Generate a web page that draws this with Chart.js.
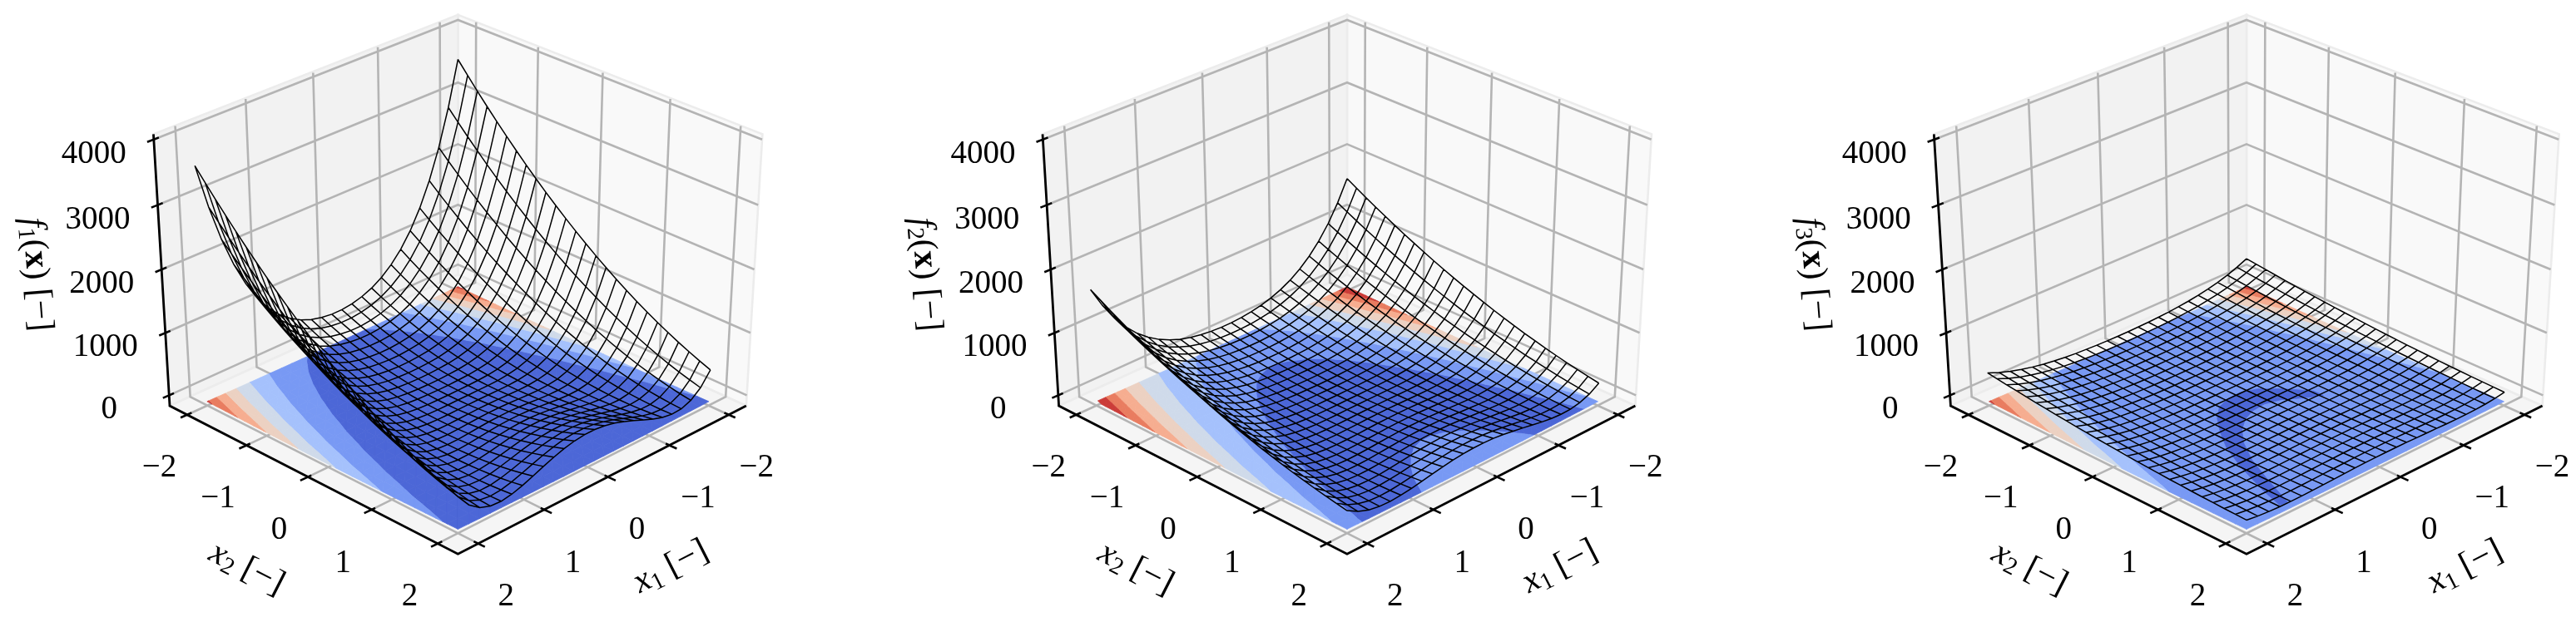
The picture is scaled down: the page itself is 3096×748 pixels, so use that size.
<!DOCTYPE html>
<html>
<head>
<meta charset="utf-8">
<style>
  html, body { margin: 0; background: #fff; }
  canvas { position: absolute; top: 0; }
</style>
<script src="https://cdn.jsdelivr.net/npm/chart.js@4"></script>
</head>
<body>
<canvas id="c1" width="1032" height="748" style="left:0"></canvas>
<canvas id="c2" width="1032" height="748" style="left:1032px"></canvas>
<canvas id="c3" width="1032" height="748" style="left:2064px"></canvas>
<script>
const x1Ticks = [-2, -1, 0, 1, 2];
const x2Ticks = [-2, -1, 0, 1, 2];
const zTicks = [0, 1000, 2000, 3000, 4000];
const gridX = [-2, -1.84, -1.68, -1.52, -1.36, -1.2, -1.04, -0.88, -0.72, -0.56, -0.4, -0.24, -0.08, 0.08, 0.24, 0.4, 0.56, 0.72, 0.88, 1.04, 1.2, 1.36, 1.52, 1.68, 1.84, 2];

const f1Grid = [
[3609,2908,2332,1864,1488,1188,954,774,637,537,469,426,403,403,425,467,535,634,770,950,1183,1482,1858,2325,2901,3601],
[3420,2739,2180,1728,1368,1081,858,687,559,466,402,362,342,342,361,400,464,556,683,854,1076,1362,1722,2173,2732,3412],
[3235,2574,2034,1598,1252,978,767,606,486,400,341,304,285,285,303,339,398,483,602,763,973,1246,1592,2027,2567,3227],
[3056,2415,1892,1473,1142,881,681,530,418,338,284,251,234,234,250,282,336,415,526,677,876,1136,1467,1885,2408,3048],
[2882,2260,1756,1353,1036,789,600,459,356,282,233,203,188,188,202,231,280,353,455,596,784,1030,1347,1749,2253,2874],
[2713,2111,1625,1238,936,702,525,394,298,231,187,160,146,146,159,185,229,295,390,521,697,930,1232,1618,2104,2705],
[2549,1967,1499,1128,841,620,454,333,246,185,146,123,110,110,122,144,183,243,329,450,615,835,1122,1492,1960,2541],
[2390,1828,1377,1024,751,543,389,278,198,145,110,90,79,79,89,108,143,195,274,385,538,745,1018,1370,1821,2382],
[2237,1694,1262,924,666,472,329,227,156,109,79,63,54,54,62,77,107,153,223,325,467,660,918,1255,1687,2229],
[2088,1565,1151,830,587,405,274,182,119,78,54,40,33,33,39,52,76,116,178,270,400,581,824,1144,1558,2080],
[1945,1441,1045,740,512,344,224,142,87,53,33,23,17,17,22,31,51,84,138,220,339,506,734,1038,1434,1937],
[1807,1323,945,656,443,287,179,107,60,33,18,11,7,7,10,16,31,57,103,175,282,437,650,938,1316,1799],
[1674,1209,849,577,378,236,139,77,39,18,8,4,2,2,3,6,16,36,73,135,231,372,571,842,1202,1666],
[1546,1101,759,503,319,190,104,52,22,7,3,2,2,2,1,1,5,19,48,100,185,313,497,752,1094,1538],
[1423,998,674,434,265,149,75,33,11,3,3,5,6,6,4,1,1,8,29,71,144,259,428,667,991,1415],
[1305,900,594,371,216,113,51,18,4,3,8,14,17,17,13,6,1,1,14,47,108,210,365,587,893,1297],
[1192,807,519,312,172,82,31,9,3,8,18,27,32,32,26,16,6,0,5,27,77,166,306,512,800,1184],
[1085,719,449,259,134,57,17,4,7,18,33,46,52,52,45,31,16,4,0,13,52,128,253,442,712,1077],
[982,636,384,210,100,36,8,5,16,34,54,70,77,77,69,52,32,13,1,4,31,94,204,377,629,974],
[885,558,325,167,72,21,4,11,30,55,79,98,108,108,97,77,53,27,7,0,16,66,161,318,551,877],
[793,486,270,129,48,11,5,22,50,80,110,132,144,144,131,108,78,47,18,1,6,42,123,263,479,785],
[706,418,221,96,30,6,12,38,74,111,146,172,184,184,171,144,109,71,34,8,1,24,90,214,411,698],
[624,356,177,68,17,6,23,60,103,147,187,216,230,230,215,185,145,100,56,19,1,11,62,170,349,616],
[547,299,137,46,9,11,40,86,138,189,233,265,281,281,264,231,187,135,82,36,6,3,40,130,292,539],
[476,247,103,28,6,21,61,118,178,235,284,320,337,337,319,282,233,175,114,57,16,0,22,96,240,468],
[409,200,75,16,8,36,88,154,223,286,341,379,399,399,378,339,284,220,150,84,31,2,10,68,193,401]
];
const f2Grid = [
[1692,1364,1094,875,699,559,448,364,299,253,221,200,189,189,199,219,251,296,360,444,554,693,869,1087,1357,1684],
[1604,1285,1023,811,643,508,403,324,263,219,189,170,161,161,169,187,217,260,320,399,503,637,805,1016,1278,1596],
[1517,1208,955,750,589,460,361,285,229,188,161,143,134,134,142,159,186,226,281,357,455,583,744,948,1201,1509],
[1434,1134,889,692,537,415,321,250,197,159,134,119,110,110,118,132,157,194,246,317,410,531,686,882,1127,1426],
[1353,1061,825,636,488,372,283,217,168,133,110,96,89,89,95,108,131,165,213,279,367,482,630,818,1054,1345],
[1273,992,763,582,441,331,248,186,141,110,89,76,69,69,75,87,108,138,182,244,326,435,576,756,985,1265],
[1196,924,705,531,397,293,214,158,117,88,69,59,52,52,58,67,86,114,154,210,288,391,525,698,917,1188],
[1123,859,647,482,355,257,184,132,95,69,52,43,37,37,42,50,67,92,128,180,252,349,476,640,852,1115],
[1051,796,594,435,315,224,156,109,75,52,38,31,26,26,30,36,50,72,105,152,219,309,429,587,789,1043],
[981,736,542,391,278,192,130,87,57,38,26,20,16,16,19,24,36,54,83,126,187,272,385,535,729,973],
[914,678,492,349,243,164,107,69,42,26,17,12,8,8,11,15,24,39,65,103,159,237,343,485,671,906],
[850,623,446,310,211,137,86,53,30,17,9,7,4,4,6,7,15,27,49,82,132,205,304,439,616,842],
[788,570,401,273,180,113,68,39,20,9,5,3,2,2,2,3,7,17,35,64,108,174,267,394,563,780],
[728,519,359,239,153,92,51,26,12,5,3,2,2,2,1,1,3,9,22,47,87,147,233,352,512,720],
[670,471,319,206,128,72,38,18,7,3,3,4,4,4,3,1,1,4,14,34,67,122,200,312,464,662],
[615,425,282,177,104,55,26,11,4,3,5,8,8,8,7,3,1,1,7,22,50,98,171,275,418,607],
[563,382,246,149,84,41,17,7,3,5,9,14,16,16,13,7,3,0,3,13,36,78,143,239,375,555],
[512,341,214,125,66,29,11,4,5,9,17,23,25,25,22,15,7,2,0,7,24,60,119,207,334,504],
[464,302,184,101,50,20,6,5,10,17,26,34,37,37,33,24,15,7,1,2,15,44,95,177,295,456],
[419,265,156,82,37,12,4,8,16,27,38,47,51,51,46,36,25,13,4,0,7,31,76,149,258,411],
[376,231,130,64,26,8,5,12,25,38,52,63,68,68,62,50,36,22,8,1,3,20,58,123,224,368],
[335,200,107,48,17,6,8,20,37,53,69,81,87,87,80,67,51,34,16,4,1,11,42,100,193,327],
[297,171,86,35,12,6,13,30,50,70,89,102,109,109,101,87,68,47,26,9,1,6,29,79,164,289],
[261,145,68,25,8,8,21,42,67,90,110,125,132,132,124,108,88,64,38,17,3,2,19,61,138,253],
[228,120,52,16,6,12,31,57,85,111,134,151,158,158,150,132,109,82,53,27,7,0,10,45,113,220],
[196,98,39,11,7,20,43,74,106,135,161,179,187,187,178,159,133,103,70,39,15,1,5,32,91,188]
];
const f3Grid = [
[369,298,240,192,154,123,99,81,66,56,49,44,41,41,43,47,54,63,77,95,118,148,186,233,291,361],
[350,281,224,178,142,113,89,72,59,48,42,38,35,35,37,40,46,56,68,85,108,136,172,217,274,342],
[332,265,210,165,131,102,80,64,51,42,36,32,29,29,31,34,40,48,60,76,97,125,159,203,258,324],
[314,249,196,153,120,93,72,57,45,36,30,27,24,24,26,28,34,42,53,68,88,114,147,189,242,306],
[296,233,182,141,109,83,64,50,38,30,25,22,20,20,21,23,28,35,46,60,78,103,135,175,226,288],
[279,218,169,129,99,75,56,43,33,25,21,18,16,16,17,19,23,30,39,52,70,93,123,162,211,271],
[263,204,156,118,90,67,49,37,27,20,16,14,12,12,13,14,18,24,33,45,62,84,112,149,197,255],
[247,190,144,108,81,59,43,31,23,16,13,11,9,9,10,11,14,20,27,39,54,75,102,137,183,239],
[232,177,133,98,72,52,37,26,18,13,10,8,6,6,7,8,11,15,22,33,47,66,92,126,170,224],
[217,164,121,88,64,45,31,22,15,10,7,6,4,4,5,5,8,12,18,27,40,58,82,114,157,209],
[203,151,111,79,57,39,26,18,11,7,5,4,3,3,3,3,5,8,14,22,34,51,73,104,144,195],
[189,140,101,71,50,33,22,14,9,5,4,3,2,2,2,2,3,6,10,18,28,44,65,94,133,181],
[176,128,91,63,43,28,18,11,7,4,3,2,1,1,1,1,2,4,7,14,23,37,57,84,121,168],
[163,117,82,56,37,24,14,9,5,3,2,2,1,1,1,0,1,2,5,10,19,31,50,75,110,155],
[150,107,74,49,32,19,11,7,4,2,2,2,2,2,1,0,0,1,3,7,14,26,43,67,100,142],
[139,97,66,43,27,16,9,5,3,2,3,3,3,3,2,1,0,0,1,5,11,21,37,59,90,131],
[127,88,58,37,23,13,7,5,3,3,4,5,4,4,4,2,1,0,1,3,8,17,31,51,81,119],
[117,79,51,31,19,10,5,4,3,4,5,6,6,6,5,3,2,0,0,1,5,13,25,44,72,109],
[106,71,45,26,15,8,4,4,4,5,7,9,9,9,8,5,3,1,0,0,3,9,20,38,64,98],
[97,63,39,22,13,7,4,5,6,7,10,12,12,12,11,8,5,3,1,0,2,7,16,32,56,89],
[87,56,33,18,10,6,4,6,8,10,13,15,15,15,14,11,8,5,2,0,1,4,12,26,49,79],
[79,49,28,15,8,5,5,7,10,13,16,19,19,19,18,14,11,7,3,1,0,2,9,21,42,71],
[71,43,24,12,7,5,6,10,13,17,21,23,24,24,22,19,15,10,6,2,0,1,6,17,36,63],
[63,37,20,10,6,6,8,12,17,21,25,28,29,29,27,23,19,14,8,4,1,0,4,13,30,55],
[56,32,17,8,6,7,10,15,21,25,30,34,35,35,33,28,23,18,11,6,2,0,2,10,25,48],
[49,27,14,7,6,8,12,19,25,30,36,40,41,41,39,34,28,22,15,8,3,0,1,7,20,41]
];

// contour levels on the floor, they are read against the wire values above
const f1Levels = [0, 500, 1000, 1500, 2000, 2500, 3000, 3500, 4000];
const f2Levels = [0, 70, 234, 467, 701, 935, 1169, 1402, 1636, 1870];
const f3Levels = [0, 100, 150, 200, 250, 300, 350, 400];
const bandColors = ["#4c67d7", "#7899f4", "#a5c1fc", "#cfdaea", "#ecd1c2", "#f6ad90", "#e97c60", "#cb3c39"];

// thin dark valley on the third floor, outline as [x1, x2]
const f3Valley = [[-0.7,0.35],[-0.5,0.08],[-0.3,-0.12],[-0.1,-0.2],[0.1,-0.19],[0.3,-0.12],[0.5,0.05],[0.7,0.3],[0.9,0.6],[1.1,1.02],[1.3,1.55],[1.4,1.88],
  [1.3,1.9],[1.1,1.42],[0.9,0.98],[0.7,0.66],[0.5,0.43],[0.3,0.28],[0.1,0.2],[-0.1,0.18],[-0.3,0.24],[-0.5,0.38],[-0.7,0.5]];

const xLim = 2.3;
const zMin = -170;
const zMax = 4080;
const zContour = -100;
const elev = 27.5 * Math.PI / 180;
const distX = 7.5;
const distY = 12;
const boxXY = 1.1905;
const boxZ = 0.8929;
const kY = 412.3;
const cY = 327.5;
const GAP = { x: NaN, y: NaN };

// same camera idea as matplotlib's 3d axes, azimuth 45
function project(x1, x2, z) {
    const a = x1 / xLim * boxXY / 2;
    const b = x2 / xLim * boxXY / 2;
    const c = ((z - zMin) / (zMax - zMin) - 0.5) * boxZ;
    const h = (a + b) * Math.SQRT1_2;
    const u = (b - a) * Math.SQRT1_2;
    const w = h * Math.cos(elev) + c * Math.sin(elev);
    const v = -h * Math.sin(elev) + c * Math.cos(elev);
    return { x: u / (1 - w / distX), y: v / (1 - w / distY) };
}

function clipPoly(poly, limit, keepAbove) {
    const out = [];
    for (let i = 0; i < poly.length; i++) {
        const p = poly[i];
        const q = poly[(i + 1) % poly.length];
        const pIn = keepAbove ? p[2] >= limit : p[2] <= limit;
        const qIn = keepAbove ? q[2] >= limit : q[2] <= limit;
        if (pIn) out.push(p);
        if (pIn !== qIn) {
            const t = (limit - p[2]) / (q[2] - p[2]);
            out.push([p[0] + t * (q[0] - p[0]), p[1] + t * (q[1] - p[1]), limit]);
        }
    }
    return out;
}

function bandPoints(grid, lo, hi) {
    const pts = [];
    const addTri = (tri) => {
        let poly = clipPoly(tri, lo, true);
        if (poly.length) poly = clipPoly(poly, hi, false);
        if (poly.length < 3) return;
        poly.forEach(p => pts.push(project(p[0], p[1], zContour)));
        pts.push(project(poly[0][0], poly[0][1], zContour));
        pts.push(GAP);
    };
    for (let j = 0; j < gridX.length - 1; j++) {
        for (let i = 0; i < gridX.length - 1; i++) {
            const a = [gridX[i], gridX[j], grid[j][i]];
            const b = [gridX[i + 1], gridX[j], grid[j][i + 1]];
            const c = [gridX[i + 1], gridX[j + 1], grid[j + 1][i + 1]];
            const d = [gridX[i], gridX[j + 1], grid[j + 1][i]];
            addTri([a, b, c]);
            addTri([a, c, d]);
        }
    }
    return pts;
}

function wirePoints(grid) {
    const pts = [];
    gridX.forEach((x2, j) => {
        gridX.forEach((x1, i) => pts.push(project(x1, x2, grid[j][i])));
        pts.push(GAP);
    });
    gridX.forEach((x1, i) => {
        gridX.forEach((x2, j) => pts.push(project(x1, x2, grid[j][i])));
        pts.push(GAP);
    });
    return pts;
}

function gridPoints() {
    const pts = [];
    x1Ticks.forEach(t => {
        pts.push(project(t, xLim, zMin), project(t, -xLim, zMin), project(t, -xLim, zMax), GAP);
    });
    x2Ticks.forEach(t => {
        pts.push(project(xLim, t, zMin), project(-xLim, t, zMin), project(-xLim, t, zMax), GAP);
    });
    zTicks.forEach(t => {
        pts.push(project(xLim, -xLim, t), project(-xLim, -xLim, t), project(-xLim, xLim, t), GAP);
    });
    return pts;
}

function tickPoints() {
    const pts = [];
    x1Ticks.forEach(t => pts.push(project(t, xLim + 0.09, zMin), project(t, xLim - 0.07, zMin), GAP));
    x2Ticks.forEach(t => pts.push(project(xLim + 0.09, t, zMin), project(xLim - 0.07, t, zMin), GAP));
    zTicks.forEach(t => pts.push(project(xLim + 0.09, -xLim, t), project(xLim - 0.07, -xLim, t), GAP));
    return pts;
}

function line(data, color, width, extra) {
    return Object.assign({ data, showLine: true, borderColor: color, borderWidth: width, pointRadius: 0, fill: false, clip: false, spanGaps: false }, extra);
}

function pane(corners, color) {
    const data = corners.map(c => project(c[0], c[1], c[2]));
    data.push(data[0]);
    return line(data, "#ececec", 2.6, { fill: "shape", backgroundColor: color });
}

function drawRuns(ctx, runs, x, y, angle, size) {
    const fontOf = (r) => {
        if (r[1] === "italic") return "italic " + size + "px 'Liberation Serif'";
        if (r[1] === "bold") return "bold " + size + "px 'Liberation Serif'";
        if (r[1] === "sub") return Math.round(size * 0.7) + "px 'Liberation Serif'";
        return size + "px 'Liberation Serif'";
    };
    let total = 0;
    runs.forEach(r => { ctx.font = fontOf(r); total += ctx.measureText(r[0]).width; });
    ctx.save();
    ctx.translate(x, y);
    ctx.rotate(angle);
    ctx.textAlign = "left";
    ctx.textBaseline = "middle";
    ctx.fillStyle = "#000";
    let pos = -total / 2;
    runs.forEach(r => {
        ctx.font = fontOf(r);
        ctx.fillText(r[0], pos, r[1] === "sub" ? size * 0.22 : 0);
        pos += ctx.measureText(r[0]).width;
    });
    ctx.restore();
}

const labelPlugin = {
    id: "panelLabels",
    afterDraw(chart, args, opts) {
        const ctx = chart.ctx;
        const sx = chart.scales.x;
        const sy = chart.scales.y;
        const toPx = (p) => ({ x: sx.getPixelForValue(p.x), y: sy.getPixelForValue(p.y) });
        ctx.save();
        ctx.fillStyle = "#000";
        ctx.textAlign = "center";
        ctx.textBaseline = "alphabetic";
        ctx.font = "39px 'Liberation Serif'";
        const fmt = (t) => t < 0 ? "\u2212" + (-t) : String(t);
        x2Ticks.forEach(t => {
            const p = toPx(project(xLim, t, zMin));
            ctx.fillText(fmt(t), p.x - 33, p.y + 74);
        });
        x1Ticks.forEach(t => {
            const p = toPx(project(t, xLim, zMin));
            ctx.fillText(fmt(t), p.x + 33, p.y + 74);
        });
        zTicks.forEach(t => {
            const p = toPx(project(xLim, -xLim, t));
            ctx.fillText(fmt(t), p.x - 72, p.y + 28);
        });
        ctx.restore();
        const c = opts.center - opts.left;
        const scale = opts.kX / 422.8;
        drawRuns(ctx, [["x", "italic"], ["2", "sub"], [" [\u2212]", ""]], c - 254 * scale, 684, 27 * Math.PI / 180, 42);
        drawRuns(ctx, [["x", "italic"], ["1", "sub"], [" [\u2212]", ""]], c + 256 * scale, 682, -27 * Math.PI / 180, 42);
        drawRuns(ctx, [["f", "italic"], [opts.index, "sub"], ["(", ""], ["x", "bold"], [") [\u2212]", ""]], c - 507 * scale, 330, 85.6 * Math.PI / 180, 42);
    }
};

function makePanel(id, index, left, center, kX, grid, levels, colors, valley) {
    const sets = [];
    sets.push(pane([[-xLim, -xLim, zMin], [-xLim, xLim, zMin], [-xLim, xLim, zMax], [-xLim, -xLim, zMax]], "#f9f9f9"));
    sets.push(pane([[-xLim, -xLim, zMin], [xLim, -xLim, zMin], [xLim, -xLim, zMax], [-xLim, -xLim, zMax]], "#f2f2f2"));
    sets.push(pane([[-xLim, -xLim, zMin], [xLim, -xLim, zMin], [xLim, xLim, zMin], [-xLim, xLim, zMin]], "#f5f5f5"));
    sets.push(line(gridPoints(), "#b4b4b4", 2.6));
    sets.push(line([project(xLim, -xLim, zMax), project(xLim, -xLim, zMin), project(xLim, xLim, zMin), project(-xLim, xLim, zMin)], "#000", 2.8));
    sets.push(line(tickPoints(), "#000", 2.6));
    colors.forEach((color, n) => {
        sets.push(line(bandPoints(grid, levels[n], levels[n + 1]), color, 0.8, { fill: "shape", backgroundColor: color }));
    });
    if (valley) {
        const data = valley.map(p => project(p[0], p[1], zContour));
        data.push(data[0]);
        sets.push(line(data, bandColors[0], 0.8, { fill: "shape", backgroundColor: bandColors[0] }));
    }
    sets.push(line(wirePoints(grid), "#000", 1.5));

    // chart.js paints the first dataset last
    sets.reverse();

    new Chart(document.getElementById(id), {
        type: "scatter",
        data: { datasets: sets },
        options: {
            responsive: false,
            animation: false,
            events: [],
            layout: { padding: 0 },
            elements: { line: { tension: 0 } },
            scales: {
                x: { type: "linear", display: false, min: (left - center) / kX, max: (left + 1032 - center) / kX },
                y: { type: "linear", display: false, min: (cY - 748) / kY, max: cY / kY }
            },
            plugins: {
                legend: { display: false },
                tooltip: { enabled: false },
                panelLabels: { index, left, center, kX }
            }
        },
        plugins: [labelPlugin]
    });
}

makePanel("c1", "1", 0, 550.4, 422.8, f1Grid, f1Levels, bandColors);
makePanel("c2", "2", 1032, 1619, 422.8, f2Grid, f2Levels, bandColors);
makePanel("c3", "3", 2064, 2700, 434, f3Grid, f3Levels, bandColors.slice(1), f3Valley);
</script>
</body>
</html>
